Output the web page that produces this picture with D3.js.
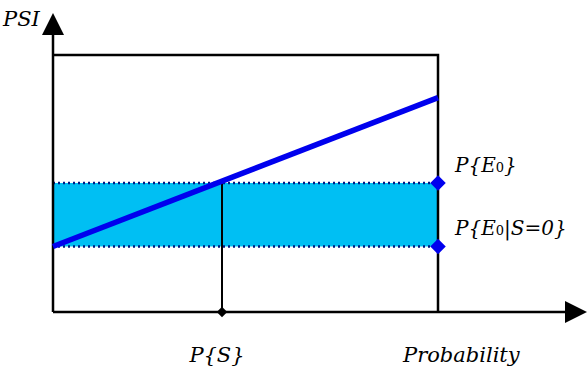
<!DOCTYPE html>
<html>
<head>
<meta charset="utf-8">
<script src="https://cdn.jsdelivr.net/npm/d3@7"></script>
<style>
  body { margin: 0; background: #fff; }
</style>
</head>
<body>
<div id="chart_parent"></div>
<script>
// values in unit space: x = probability, y = PSI
const psiLine = [{ x: 0, y: 0.255 }, { x: 1, y: 0.834 }];
const bandLevels = [0.255, 0.502];      // P{E0|S=0}, P{E0}
const pS = 0.439;

const chartConfig = {
    outerWidth: 588,
    outerHeight: 372,
    font: 'DejaVu Serif',
};

const svg = d3.select('#chart_parent').append('svg')
    .attr('width', chartConfig.outerWidth)
    .attr('height', chartConfig.outerHeight);

const xScale = d3.scaleLinear().domain([0, 1]).range([53, 438]);
const yScale = d3.scaleLinear().domain([0, 1]).range([312, 55]);

// shaded band
svg.append('rect')
    .attr('x', xScale(0))
    .attr('y', yScale(bandLevels[1]))
    .attr('width', xScale(1) - xScale(0))
    .attr('height', yScale(bandLevels[0]) - yScale(bandLevels[1]))
    .attr('fill', '#00BFF3');

// dotted band edges
svg.selectAll('.band-edge').data(bandLevels).enter()
    .append('line')
    .attr('class', 'band-edge')
    .attr('x1', xScale(0))
    .attr('x2', xScale(1))
    .attr('y1', d => yScale(d))
    .attr('y2', d => yScale(d))
    .attr('stroke', '#001a80')
    .attr('stroke-width', 2.5)
    .attr('stroke-dasharray', '2 3');

// frame: top and right edges
svg.append('path')
    .attr('d', `M${xScale(0)},${yScale(1)}H${xScale(1)}V${yScale(0)}`)
    .attr('fill', 'none')
    .attr('stroke', '#000')
    .attr('stroke-width', 2.5);

// axes
svg.append('line')
    .attr('x1', xScale(0)).attr('y1', yScale(0))
    .attr('x2', 568).attr('y2', yScale(0))
    .attr('stroke', '#000').attr('stroke-width', 2.5);
svg.append('line')
    .attr('x1', xScale(0)).attr('y1', yScale(0))
    .attr('x2', xScale(0)).attr('y2', 32)
    .attr('stroke', '#000').attr('stroke-width', 2.5);

// arrow heads
svg.append('path')
    .attr('d', `M565,${yScale(0) - 11}L587,${yScale(0)}L565,${yScale(0) + 11}Z`)
    .attr('fill', '#000');
svg.append('path')
    .attr('d', `M${xScale(0) - 11},35L${xScale(0)},13L${xScale(0) + 11},35Z`)
    .attr('fill', '#000');

// vertical drop at P{S}
const yAtPS = psiLine[0].y + (psiLine[1].y - psiLine[0].y) * pS;
svg.append('line')
    .attr('x1', xScale(pS)).attr('x2', xScale(pS))
    .attr('y1', yScale(yAtPS)).attr('y2', yScale(0))
    .attr('stroke', '#000').attr('stroke-width', 2);

// PSI line
const theLine = d3.line()
    .x(d => xScale(d.x))
    .y(d => yScale(d.y));

svg.append('path')
    .datum(psiLine)
    .attr('d', theLine)
    .attr('fill', 'none')
    .attr('stroke', '#0000EE')
    .attr('stroke-width', 5.5);

// diamonds (rotated squares)
const square = d3.symbol().type(d3.symbolSquare);
svg.selectAll('.level-marker').data(bandLevels).enter()
    .append('path')
    .attr('class', 'level-marker')
    .attr('d', square.size(120)())
    .attr('transform', d => `translate(${xScale(1)},${yScale(d)}) rotate(45)`)
    .attr('fill', '#0000EE');

svg.append('path')
    .attr('d', square.size(55)())
    .attr('transform', `translate(${xScale(pS)},${yScale(0)}) rotate(45)`)
    .attr('fill', '#000');

// labels
function addText(x, y, size) {
    return svg.append('text')
        .attr('x', x).attr('y', y)
        .attr('font-family', chartConfig.font)
        .attr('font-style', 'italic')
        .attr('font-size', size)
        .attr('fill', '#000');
}

function e0Label(x, y, tail) {
    const t = addText(x, y, 20);
    t.append('tspan').text('P{E');
    t.append('tspan').text('0').attr('font-style', 'normal').attr('font-size', 13);
    t.append('tspan').text(tail);
    return t;
}

e0Label(455, 172, '}');
e0Label(455, 235, '|S=0}');

addText(3, 26, 21).text('PSI');

addText(xScale(pS) - 5, 362, 21)
    .attr('text-anchor', 'middle')
    .text('P{S}');

addText(403, 362, 21).text('Probability');
</script>
</body>
</html>
